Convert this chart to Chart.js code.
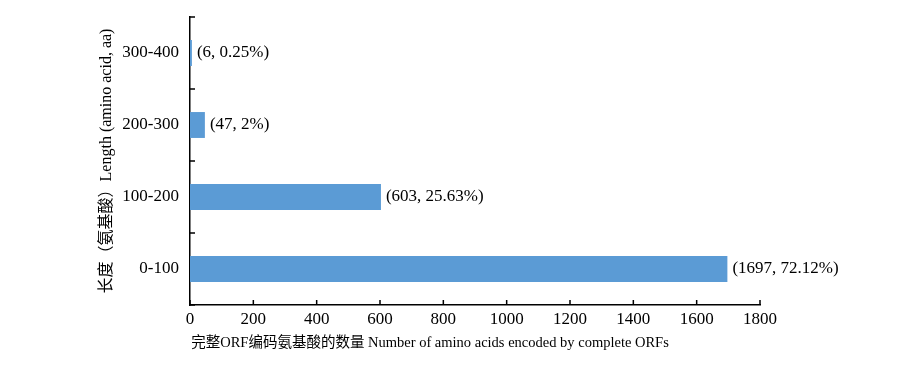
<!DOCTYPE html>
<html>
<head>
<meta charset="utf-8">
<script src="https://cdn.jsdelivr.net/npm/chart.js@4"></script>
<style>
  body { margin: 0; background: #fff; }
  #wrap { width: 912px; height: 372px; }
</style>
</head>
<body>
<div id="wrap"><canvas id="orf-chart" width="912" height="372"></canvas></div>
<script>
// ORF length distribution

const categories = ['0-100', '100-200', '200-300', '300-400'];
const counts = [1697, 603, 47, 6];
const percents = ['72.12%', '25.63%', '2%', '0.25%'];
const xTicks = [0, 200, 400, 600, 800, 1000, 1200, 1400, 1600, 1800];

const FONT = "'Liberation Serif', 'Noto Sans CJK SC', serif";

// inward tick marks + value labels
const tickPlugin = {
    id: 'tickPlugin',
    afterDraw(chart) {
        const ctx = chart.ctx;
        const xs = chart.scales.x;
        const ys = chart.scales.y;
        const area = chart.chartArea;
        ctx.save();
        ctx.strokeStyle = '#000';
        ctx.lineWidth = 1.5;
        ctx.beginPath();
        xTicks.forEach(v => {
            const px = xs.getPixelForValue(v);
            ctx.moveTo(px, area.bottom);
            ctx.lineTo(px, area.bottom - 5);
        });
        for (let i = 0; i <= categories.length; i++) {
            const py = ys.getPixelForValue(i - 0.5);
            ctx.moveTo(area.left, py);
            ctx.lineTo(area.left + 5, py);
        }
        ctx.stroke();

        // bar labels
        ctx.fillStyle = '#000';
        ctx.font = '17px ' + FONT;
        ctx.textBaseline = 'middle';
        ctx.textAlign = 'left';
        const meta = chart.getDatasetMeta(0);
        meta.data.forEach((bar, i) => {
            ctx.fillText('(' + counts[i] + ', ' + percents[i] + ')', bar.x + 5, bar.y);
        });

        // x axis title
        ctx.font = '14.5px ' + FONT;
        ctx.textAlign = 'center';
        ctx.fillText('完整ORF编码氨基酸的数量 Number of amino acids encoded by complete ORFs', 430, 343);
        ctx.restore();
    }
};

new Chart(document.getElementById('orf-chart'), {
    type: 'bar',
    data: {
        labels: categories,
        datasets: [{
            data: counts,
            backgroundColor: '#5B9BD5',
            borderWidth: 0,
            barPercentage: 0.72,
            categoryPercentage: 0.5
        }]
    },
    options: {
        indexAxis: 'y',
        responsive: false,
        animation: false,
        layout: { padding: { left: 97, right: 152, top: 17, bottom: 0 } },
        plugins: {
            legend: { display: false },
            tooltip: { enabled: false }
        },
        scales: {
            x: {
                min: 0,
                max: 1800,
                afterBuildTicks: s => { s.ticks = xTicks.map(v => ({ value: v })); },
                afterFit: s => { s.height = 67; },
                grid: { display: false, drawTicks: false },
                border: { display: true, color: '#000', width: 1.5 },
                ticks: { color: '#000', font: { family: FONT, size: 17 }, padding: 4, callback: v => String(v) }
            },
            y: {
                reverse: true,
                afterFit: s => { s.width = 93; s.paddingTop = 0; s.paddingBottom = 0; },
                grid: { display: false, drawTicks: false },
                border: { display: true, color: '#000', width: 1.5 },
                ticks: { color: '#000', font: { family: FONT, size: 17 }, padding: 11 },
                title: {
                    display: true,
                    text: '长度（氨基酸）Length (amino acid, aa)',
                    color: '#000',
                    font: { family: FONT, size: 16 },
                    padding: 0
                }
            }
        }
    },
    plugins: [tickPlugin]
});
</script>
</body>
</html>
